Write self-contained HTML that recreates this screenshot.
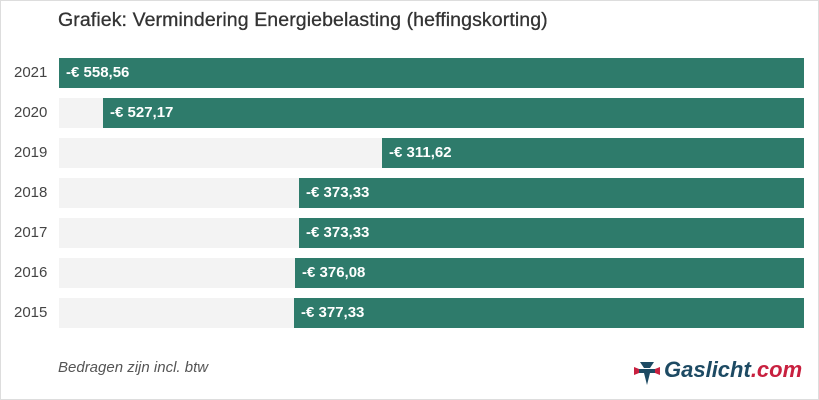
<!DOCTYPE html>
<html><head><style>
body{margin:0;width:819px;height:400px;overflow:hidden;background:#fff;font-family:"Liberation Sans",sans-serif;}
.frame{position:absolute;left:0;top:0;width:817px;height:398px;border:1px solid #ddd;}
.t{position:absolute;left:58px;top:9px;font-size:19.5px;color:#333;letter-spacing:0.1px;-webkit-text-stroke:0.3px #333;}
.y{position:absolute;left:14px;font-size:15px;color:#444;line-height:30px;}
.bg{position:absolute;left:59px;width:745px;height:30px;background:#f3f3f3;}
.b{position:absolute;right:15px;height:30px;background:#2e7b6b;color:#fff;font-size:15px;font-weight:bold;line-height:30px;box-sizing:border-box;padding-left:7px;}
.note{position:absolute;left:58px;top:359px;font-size:15px;font-style:italic;color:#555;}
.logo{position:absolute;left:664px;top:357px;font-size:22px;font-weight:bold;font-style:italic;color:#1d4a63;}
.logo span{color:#c8203f;}
</style></head><body>
<div class="frame"></div>
<div class="t">Grafiek: Vermindering Energiebelasting (heffingskorting)</div>

<div class="y" style="top:58px">2021</div><div class="bg" style="top:58px"></div><div class="b" style="top:58px;left:59px">-€ 558,56</div>
<div class="y" style="top:98px">2020</div><div class="bg" style="top:98px"></div><div class="b" style="top:98px;left:103px">-€ 527,17</div>
<div class="y" style="top:138px">2019</div><div class="bg" style="top:138px"></div><div class="b" style="top:138px;left:382px">-€ 311,62</div>
<div class="y" style="top:178px">2018</div><div class="bg" style="top:178px"></div><div class="b" style="top:178px;left:299px">-€ 373,33</div>
<div class="y" style="top:218px">2017</div><div class="bg" style="top:218px"></div><div class="b" style="top:218px;left:299px">-€ 373,33</div>
<div class="y" style="top:258px">2016</div><div class="bg" style="top:258px"></div><div class="b" style="top:258px;left:295px">-€ 376,08</div>
<div class="y" style="top:298px">2015</div><div class="bg" style="top:298px"></div><div class="b" style="top:298px;left:294px">-€ 377,33</div>

<div class="note">Bedragen zijn incl. btw</div>
<svg style="position:absolute;left:632px;top:358px" width="30" height="28" viewBox="0 0 30 28">
<path d="M2 9 L12 13 L2 17 Z" fill="#c8203f"/><path d="M28 9 L18 13 L28 17 Z" fill="#c8203f"/>
<path d="M8 4 L22 4 L18 10 L12 10 Z" fill="#1d4a63"/><path d="M12 15 L18 15 L15 27 Z" fill="#1d4a63"/>
<rect x="7" y="11" width="16" height="4" fill="#1d4a63"/>
</svg>
<div class="logo">Gaslicht<span>.com</span></div>
</body></html>
